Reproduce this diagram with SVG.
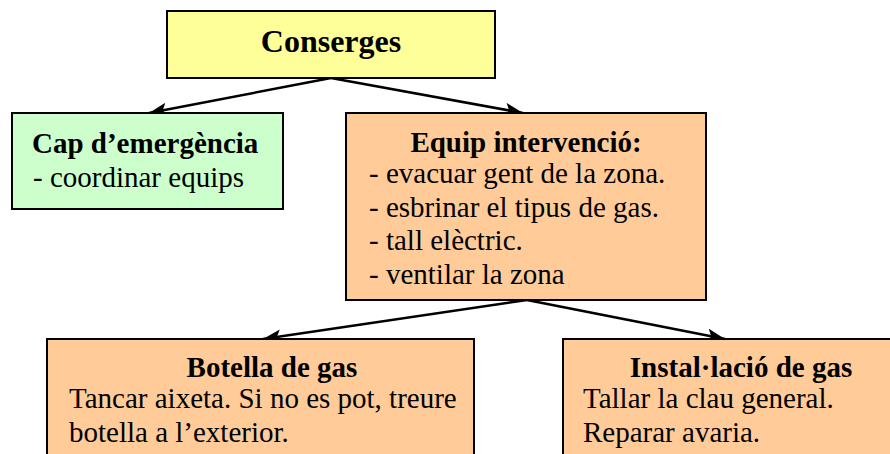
<svg xmlns="http://www.w3.org/2000/svg" width="890" height="454" viewBox="0 0 890 454">
<style>
.box{stroke:#000;stroke-width:2}
.t{font-family:"Liberation Serif","Times New Roman",serif;font-size:29px;fill:#000}
.b{font-weight:bold}
.c{text-anchor:middle}
.ln{stroke:#000;stroke-width:2.5;fill:none}
</style>
<defs>
<marker id="ah" markerUnits="userSpaceOnUse" markerWidth="20" markerHeight="14" refX="18" refY="7" orient="auto">
<path d="M0,0 L18,7 L0,14 L4,7 Z" fill="#000"/>
</marker>
</defs>
<rect width="890" height="454" fill="#fff"/>
<g id="connectors">
<line class="ln" x1="331" y1="78" x2="149" y2="113" marker-end="url(#ah)"/>
<line class="ln" x1="331" y1="78" x2="523" y2="113" marker-end="url(#ah)"/>
<line class="ln" x1="527" y1="300" x2="263" y2="339" marker-end="url(#ah)"/>
<line class="ln" x1="527" y1="300" x2="725" y2="339" marker-end="url(#ah)"/>
</g>
<g id="conserges">
<rect class="box" x="167" y="11" width="328" height="67" fill="#FFFF99"/>
<text class="t b c" x="331" y="52" style="font-size:32px">Conserges</text>
</g>
<g id="cap">
<rect class="box" x="12" y="113" width="271" height="96" fill="#CCFFCC"/>
<text class="t b" x="32" y="153">Cap d’emergència</text>
<text class="t" x="33" y="187">- coordinar equips</text>
</g>
<g id="equip">
<rect class="box" x="346" y="113" width="360" height="187" fill="#FFCC99"/>
<text class="t b c" x="526" y="152">Equip intervenció:</text>
<text class="t" x="369" y="183">- evacuar gent de la zona.</text>
<text class="t" x="369" y="217">- esbrinar el tipus de gas.</text>
<text class="t" x="369" y="250">- tall elèctric.</text>
<text class="t" x="369" y="284">- ventilar la zona</text>
</g>
<g id="botella">
<rect class="box" x="47" y="339" width="427" height="130" fill="#FFCC99"/>
<text class="t b c" x="272" y="377">Botella de gas</text>
<text class="t" x="69" y="408">Tancar aixeta. Si no es pot, treure</text>
<text class="t" x="69" y="442">botella a l’exterior.</text>
</g>
<g id="installacio">
<rect class="box" x="563" y="339" width="360" height="130" fill="#FFCC99"/>
<text class="t b c" x="741" y="377">Instal·lació de gas</text>
<text class="t" x="583" y="408">Tallar la clau general.</text>
<text class="t" x="583" y="442">Reparar avaria.</text>
</g>
</svg>
